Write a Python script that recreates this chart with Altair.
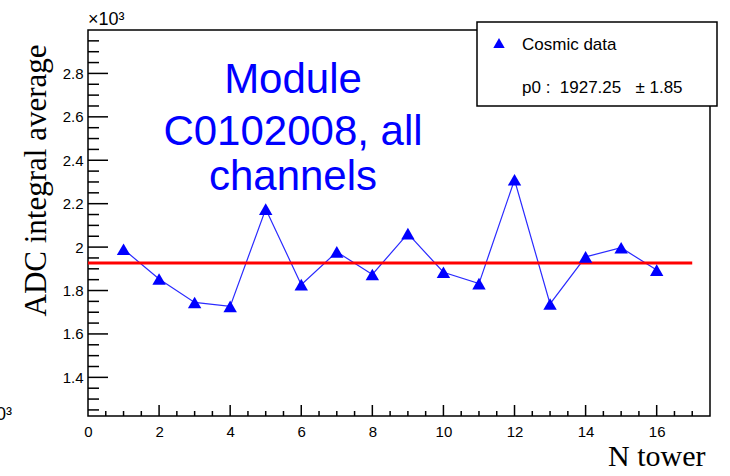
import altair as alt
import pandas as pd

# ADC integral average per tower (module C0102008, cosmic runs)
towers = list(range(1, 17))
adc_avg = [1990, 1853, 1745, 1727, 2175, 1827, 1978, 1874,
           2062, 1884, 1832, 2310, 1738, 1955, 1997, 1894]

# constant fit (pol0) over the tower range
p0 = 1927.25
p0_err = 1.85
fit_range = [0, 17]

# axis ranges, labels and tick positions
x_domain = [0, 17.5]
y_domain = [1222, 3000]
x_labels = [0, 2, 4, 6, 8, 10, 12, 14, 16]
x_major = [2, 4, 6, 8, 10, 12, 14, 16]
x_minor = [0.5, 1, 1.5, 2.5, 3, 3.5, 4.5, 5, 5.5, 6.5, 7, 7.5, 8.5, 9, 9.5,
           10.5, 11, 11.5, 12.5, 13, 13.5, 14.5, 15, 15.5, 16.5, 17]
y_labels = [1400, 1600, 1800, 2000, 2200, 2400, 2600, 2800]
y_minor = [1250, 1300, 1350, 1450, 1500, 1550, 1650, 1700, 1750, 1850, 1900,
           1950, 2050, 2100, 2150, 2250, 2300, 2350, 2450, 2500, 2550, 2650,
           2700, 2750, 2850, 2900, 2950]

module_lines = ["Module", "C0102008, all", "channels"]
legend_entry = "Cosmic data"
legend_fit = f"p0 :\u00a0\u00a0{p0:.2f}\u00a0\u00a0\u00a0± {p0_err:.2f}"

W, H = 622, 386
BLUE = "#0000ff"
RED = "#ff0000"
SANS = "Liberation Sans"
SERIF = "Liberation Serif"

xs = alt.Scale(domain=x_domain, nice=False, zero=False)
ys = alt.Scale(domain=y_domain, nice=False, zero=False)

data = pd.DataFrame({"x": towers, "y": adc_avg})
fit_df = pd.DataFrame({"x": [fit_range[0]], "x2": [fit_range[1]], "y": [p0]})

x_axis = alt.Axis(
    values=x_labels, format="d", ticks=False, domain=False, grid=False,
    labelFont=SANS, labelFontSize=15, labelPadding=8, labelColor="black",
    labelFlush=False, labelOverlap=False,
    title="N tower", titleFont=SERIF, titleFontSize=30, titleFontWeight="normal",
    titleColor="black", titleAlign="right", titleBaseline="alphabetic",
    titleAngle=0, titleX=617, titleY=49,
)
y_axis = alt.Axis(
    values=y_labels, labelExpr="format(datum.value / 1000, '.1~f')",
    ticks=False, domain=False, grid=False,
    labelFont=SANS, labelFontSize=15, labelPadding=5, labelColor="black",
    labelFlush=False, labelOverlap=False,
    title="ADC integral average", titleFont=SERIF, titleFontSize=31,
    titleFontWeight="normal", titleColor="black", titleAngle=270,
    titleAlign="center", titleBaseline="middle", titleX=-52, titleY=150,
)

X = lambda: alt.X("x:Q", scale=xs, axis=x_axis)
Y = lambda: alt.Y("y:Q", scale=ys, axis=y_axis)

graph_line = alt.Chart(data).mark_line(color="#2a2aff", strokeWidth=1.2).encode(
    x=X(), y=Y(),
)

# inward-pointing ticks (ROOT style)
def y_ticks(values, length):
    return alt.Chart(pd.DataFrame({"y": values})).mark_rule(
        color="black", strokeWidth=1.5
    ).encode(y=Y(), x=alt.value(0), x2=alt.value(length))

def x_ticks(values, length):
    return alt.Chart(pd.DataFrame({"x": values})).mark_rule(
        color="black", strokeWidth=1.5
    ).encode(x=X(), y=alt.value(H), y2=alt.value(H - length))

ticks = [y_ticks(y_labels, 20), y_ticks(y_minor, 11),
         x_ticks(x_major, 11), x_ticks(x_minor, 5)]

fit_line = alt.Chart(fit_df).mark_rule(color=RED, strokeWidth=3).encode(
    x=X(), x2="x2:Q", y=Y(),
)

graph_points = alt.Chart(data).mark_point(
    shape="triangle-up", filled=True, size=180, color=BLUE, opacity=1
).encode(x=X(), y=Y())

def label(text, x, y, size, font=SANS, color="black", align="left",
          baseline="alphabetic"):
    return alt.Chart(pd.DataFrame({"t": [text]})).mark_text(
        font=font, fontSize=size, color=color, align=align, baseline=baseline
    ).encode(text="t:N", x=alt.value(x), y=alt.value(y))

module_y = [63, 115, 160]
module_text = [label(t, 205, yy, 42, color=BLUE, align="center")
               for t, yy in zip(module_lines, module_y)]

legend_box = alt.Chart(pd.DataFrame({"t": [0]})).mark_rect(
    fill="white", stroke="black", strokeWidth=1.5
).encode(
    x=alt.value(389), x2=alt.value(629), y=alt.value(-8), y2=alt.value(76)
)
legend_marker = alt.Chart(pd.DataFrame({"t": [0]})).mark_point(
    shape="triangle-up", filled=True, size=130, color=BLUE, opacity=1
).encode(x=alt.value(411), y=alt.value(13))
legend_texts = [
    label(legend_entry, 434, 15, 17, baseline="middle"),
    label(legend_fit, 434, 58, 17, baseline="middle"),
]

exponent_labels = [
    label("×10³", 0, -5, 18),
    label("×10³", -76, 390, 18, align="right"),
]

chart = alt.layer(
    graph_line, *ticks, fit_line, graph_points, *module_text,
    legend_box, legend_marker, *legend_texts, *exponent_labels,
).properties(
    width=W, height=H,
    autosize=alt.AutoSizeParams(type="none"),
    padding={"left": 88, "top": 30, "right": 20, "bottom": 60},
    background="white",
).configure_view(
    stroke="black", strokeWidth=1.5
)

chart.save("out.html", embed_options={"renderer": "svg", "actions": False})
